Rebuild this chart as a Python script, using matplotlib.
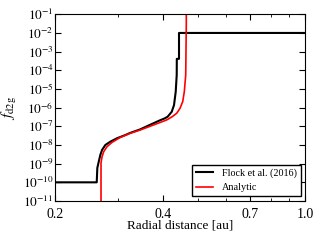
import numpy as np
import matplotlib.pyplot as plt
from matplotlib.ticker import FixedLocator, FixedFormatter, NullFormatter

plt.rcParams['font.family'] = 'Liberation Serif'
plt.rcParams['mathtext.fontset'] = 'stix'
plt.rcParams['font.size'] = 10

# Flock et al. (2016) profile
flock_r = [0.2, 0.2615, 0.2625, 0.2649, 0.2676, 0.2706, 0.2764, 0.2854, 0.2980,
           0.3143, 0.3240, 0.3455, 0.3684, 0.3929, 0.4057, 0.4128, 0.4236,
           0.4299, 0.4346, 0.4374, 0.4377, 0.4439, 0.4439, 1.0]
flock_f = [1.0e-10, 1.0e-10, 5.9e-10, 1.27e-9, 2.9e-9, 5.4e-9, 1.0e-8, 1.5e-8, 2.3e-8,
           3.4e-8, 4.4e-8, 6.8e-8, 1.2e-7, 2.1e-7, 2.7e-7, 3.3e-7, 6.0e-7,
           1.37e-6, 7.1e-6, 5.6e-5, 4.1e-4, 4.1e-4, 1.0e-2, 1.0e-2]

# analytic profile
ana_r = [0.2688, 0.2688, 0.2706, 0.2735, 0.2794, 0.2885, 0.3038, 0.3240, 0.3455,
         0.3684, 0.3929, 0.4102, 0.4252, 0.4374, 0.4468, 0.4546, 0.4593, 0.4635,
         0.4652, 0.4654]
ana_f = [1.0e-12, 1.1e-9, 2.35e-9, 4.4e-9, 8.1e-9, 1.38e-8, 2.5e-8, 4.2e-8, 6.3e-8,
         1.0e-7, 1.6e-7, 2.2e-7, 3.3e-7, 5.0e-7, 9.2e-7, 2.1e-6, 7.1e-6, 5.6e-5,
         2.7e-2, 1.0]

xticks = [0.2, 0.4, 0.7, 1.0]
xlabels = ['0.2', '0.4', '0.7', '1.0']
xminor = [0.3, 0.5, 0.6, 0.8, 0.9]
ydecades = list(range(-11, 0))

fig = plt.figure(figsize=(3.2, 2.4), dpi=100)
ax = fig.add_axes([0.172, 0.1625, 0.782, 0.778])
ax.plot(flock_r, flock_f, color='black', lw=1.5, label='Flock et al. (2016)')
ax.plot(ana_r, ana_f, color='red', lw=1.2, label='Analytic')

ax.set_xscale('log')
ax.set_yscale('log')
ax.set_xlim(0.2, 1.0)
ax.set_ylim(1e-11, 1e-1)

ax.xaxis.set_major_locator(FixedLocator(xticks))
ax.xaxis.set_major_formatter(FixedFormatter(xlabels))
ax.xaxis.set_minor_locator(FixedLocator(xminor))
ax.xaxis.set_minor_formatter(NullFormatter())
ax.set_yticks([10.0**k for k in ydecades])
ax.set_yticklabels([r'$10^{%d}$' % k for k in ydecades])
ax.yaxis.set_minor_locator(FixedLocator([]))

ax.tick_params(which='both', direction='in', top=True, right=True)
ax.tick_params(which='major', length=4)
ax.tick_params(axis='y', pad=1, labelsize=9.5)
ax.tick_params(axis='x', pad=5, labelsize=10)
ax.tick_params(which='minor', length=2)

ax.set_xlabel('Radial distance [au]', fontsize=9.5, labelpad=-1)
ax.set_ylabel(r'$f_{\rm d2g}$', fontsize=11)
ax.yaxis.set_label_coords(-0.145, 0.5)

leg = ax.legend(loc='lower right', fontsize=7.3, handlelength=1.6, handletextpad=0.9,
                fancybox=False, framealpha=1, borderaxespad=0.45)
leg.get_frame().set_edgecolor('black')

fig.savefig('out.png', dpi=100)
